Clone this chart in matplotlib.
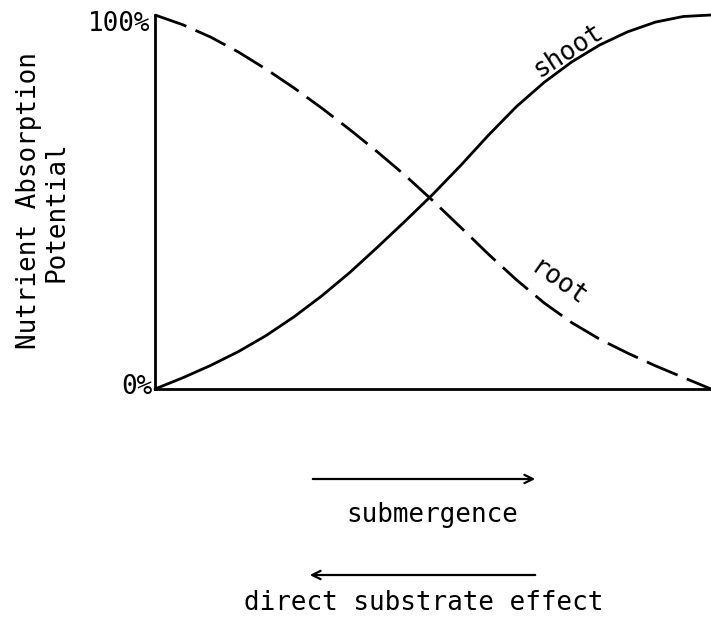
import matplotlib
matplotlib.use("Agg")
import matplotlib.pyplot as plt
from matplotlib.patches import FancyArrowPatch

# Position along the x axis (fraction of axis length)
x_pos = [0.00, 0.05, 0.10, 0.15, 0.20, 0.25, 0.30, 0.35, 0.40, 0.45, 0.50,
         0.55, 0.60, 0.65, 0.70, 0.75, 0.80, 0.85, 0.90, 0.95, 1.00]
# Nutrient absorption potential (fraction of 100%)
shoot = [0.000, 0.030, 0.063, 0.100, 0.143, 0.193, 0.249, 0.311, 0.379, 0.449, 0.521,
         0.598, 0.679, 0.755, 0.820, 0.875, 0.920, 0.955, 0.981, 0.996, 1.000]
root = [1.000, 0.974, 0.941, 0.901, 0.855, 0.805, 0.751, 0.694, 0.634, 0.571, 0.503,
        0.432, 0.360, 0.292, 0.230, 0.177, 0.133, 0.096, 0.062, 0.031, 0.000]

y_tick_labels = ["0%", "100%"]
curve_labels = ["shoot", "root"]
ylabel_lines = ["Nutrient Absorption", "Potential"]
arrow_labels = ["submergence", "direct substrate effect"]

FONT = "DejaVu Sans Mono"
FS = 18.7

W, H = 711, 622
fig = plt.figure(figsize=(W / 100, H / 100), dpi=100)
ax = fig.add_axes([155 / W, 1 - 389 / H, (W - 155) / W, (389 - 15) / H])
ax.set_xlim(0, 1)
ax.set_ylim(0, 1)
for s in ["top", "right"]:
    ax.spines[s].set_visible(False)
for s in ["left", "bottom"]:
    ax.spines[s].set_linewidth(2.0)
    ax.spines[s].set_color("black")
ax.set_xticks([])
ax.set_yticks([])

ax.plot(x_pos, shoot, color="black", lw=2.0, clip_on=False,
        solid_capstyle="round", solid_joinstyle="round")
ax.plot(x_pos, root, color="black", lw=2.0, clip_on=False, dashes=(12, 3.6))

# y value labels
ax.text(-0.008, 0.975, y_tick_labels[1], ha="right", va="center",
        family=FONT, fontsize=FS, transform=ax.transAxes)
ax.text(-0.004, 0.005, y_tick_labels[0], ha="right", va="center",
        family=FONT, fontsize=FS, transform=ax.transAxes)

# curve labels
ax.text(0.743, 0.905, curve_labels[0], rotation=33, ha="center", va="center",
        family=FONT, fontsize=FS, rotation_mode="anchor")
ax.text(0.725, 0.283, curve_labels[1], rotation=-35, ha="center", va="center",
        family=FONT, fontsize=FS, rotation_mode="anchor")

# y axis label (two lines)
fig.text(29 / W, 1 - 201 / H, ylabel_lines[0], rotation=90, ha="center", va="center",
         family=FONT, fontsize=FS)
fig.text(57 / W, 1 - 212 / H, ylabel_lines[1], rotation=90, ha="center", va="center",
         family=FONT, fontsize=FS)

# arrows
fig.patches.append(FancyArrowPatch(
    (310 / W, 1 - 479 / H), (538 / W, 1 - 479 / H), transform=fig.transFigure,
    arrowstyle="->,head_length=6,head_width=3", lw=1.6, color="black"))
fig.text(432 / W, 1 - 515 / H, arrow_labels[0], ha="center", va="center",
         family=FONT, fontsize=FS)
fig.patches.append(FancyArrowPatch(
    (538 / W, 1 - 575 / H), (307 / W, 1 - 575 / H), transform=fig.transFigure,
    arrowstyle="->,head_length=6,head_width=3", lw=1.6, color="black"))
fig.text(424 / W, 1 - 603 / H, arrow_labels[1], ha="center", va="center",
         family=FONT, fontsize=FS)

fig.savefig("out.png", dpi=100, facecolor="white")
